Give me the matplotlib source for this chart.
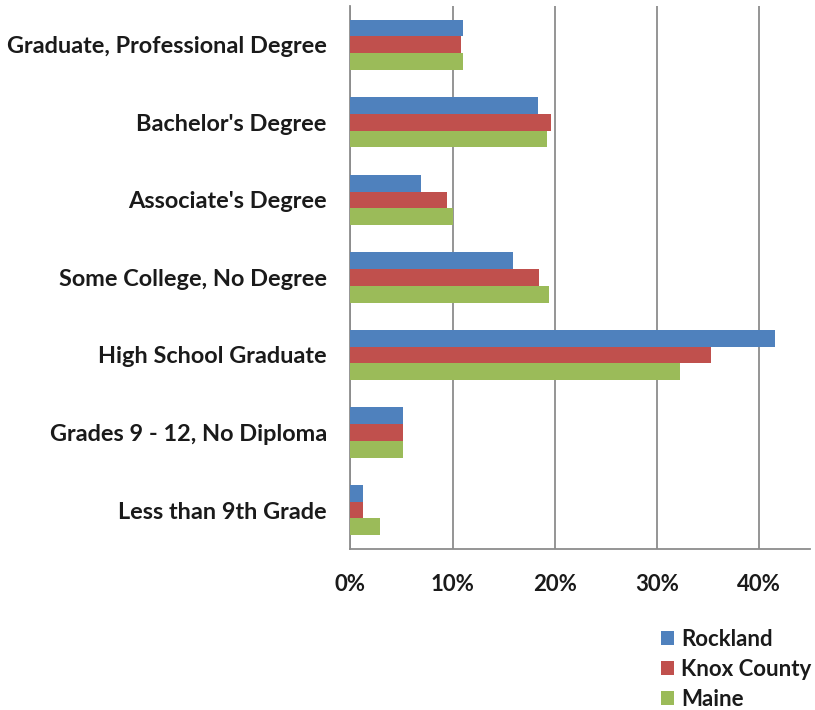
import numpy as np
import matplotlib.pyplot as plt
from matplotlib.ticker import PercentFormatter, MultipleLocator

# categorias de baixo para cima (como no Excel)
categorias = [
    "Less than 9th Grade",
    "Grades 9 - 12, No Diploma",
    "High School Graduate",
    "Some College, No Degree",
    "Associate's Degree",
    "Bachelor's Degree",
    "Graduate, Professional Degree",
]

rockland = [1.2, 5.1, 41.6, 15.9, 6.9, 18.4, 11.0]
knox = [1.2, 5.1, 35.3, 18.5, 9.5, 19.6, 10.8]
maine = [2.85, 5.1, 32.3, 19.4, 10.0, 19.2, 11.0]

series = ["Rockland", "Knox County", "Maine"]
cores = ["#4F81BD", "#C0504D", "#9BBB59"]

plt.rcParams['font.family'] = ['Lato', 'DejaVu Sans']

fig = plt.figure(figsize=(8.15, 7.10), dpi=100)
ax = fig.add_axes([0.430, 0.227, 0.564, 0.7645])

y = np.arange(len(categorias))
h = 0.216
for i, (vals, nome, cor) in enumerate(zip([rockland, knox, maine], series, cores)):
    # Rockland no topo do grupo
    ax.barh(y + (1 - i) * h, vals, height=h, color=cor, label=nome, zorder=3)

ax.set_xlim(0, 45)
ax.set_ylim(-0.5, len(categorias) - 0.5)
ax.xaxis.set_major_locator(MultipleLocator(10))
ax.xaxis.set_major_formatter(PercentFormatter(decimals=0))
ax.set_yticks(y)
ax.set_yticklabels(categorias)

ax.grid(axis='x', color='#8c8c8c', linewidth=1.3, zorder=0)
for lado in ['top', 'right']:
    ax.spines[lado].set_visible(False)
for lado in ['left', 'bottom']:
    ax.spines[lado].set_color('#8c8c8c')
    ax.spines[lado].set_linewidth(1.3)

ax.tick_params(axis='both', length=0, labelsize=16.9, labelcolor='#1a1a1a')
ax.tick_params(axis='x', pad=18, labelsize=16)
ax.tick_params(axis='y', pad=17)
for t in ax.get_xticklabels() + ax.get_yticklabels():
    t.set_fontweight('bold')

leg = fig.legend(loc='upper left', bbox_to_anchor=(0.811, 0.114), frameon=False,
                 prop={'size': 16, 'weight': 'bold'}, handlelength=0.6,
                 handleheight=0.6, handletextpad=0.3, labelspacing=0.4,
                 borderaxespad=0, borderpad=0)
for t in leg.get_texts():
    t.set_color('#1a1a1a')

fig.savefig("out.png", dpi=100)
